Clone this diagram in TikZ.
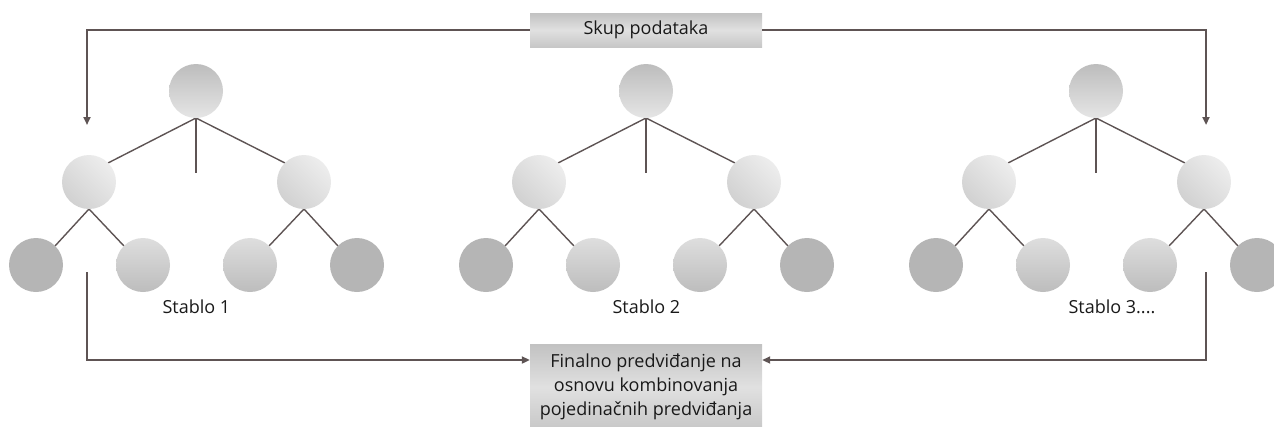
\documentclass[tikz,border=0pt]{standalone}
\usepackage{fontspec}
\setmainfont{Open Sans}
\usetikzlibrary{arrows.meta}
\definecolor{linec}{HTML}{5E5454}
\tikzset{
  branch/.style={draw=linec, line width=1.4pt},
  flow/.style={draw=linec, line width=2pt, -{Triangle[length=8pt,width=7pt]}},
  rootnode/.style={circle, minimum size=54pt, inner sep=0pt, top color=black!26, bottom color=black!10},
  midnode/.style={circle, minimum size=54pt, inner sep=0pt, top color=black!7, bottom color=black!18, shading angle=-45},
  leafsolid/.style={circle, minimum size=54pt, inner sep=0pt, fill=black!29},
  leafshade/.style={circle, minimum size=54pt, inner sep=0pt, top color=black!13, bottom color=black!26},
  boxnode/.style={inner sep=0pt, top color=black!24, bottom color=black!22, middle color=black!12, font=\fontsize{18}{24}\selectfont, text=black!90, align=center},
  treelabel/.style={anchor=west, font=\fontsize{18}{20}\selectfont, text=black!90},
}
\begin{document}
\begin{tikzpicture}[x=1pt, y=-1pt]
\clip (0,0) rectangle (1274,426);
\useasboundingbox (0,0) rectangle (1274,426);

% one tree: root, two inner nodes, four leaves
\foreach \k in {1,2,3} {
  \pgfmathsetmacro{\cx}{196+450*(\k-1)}
  \begin{scope}[shift={(\cx,0)}]
    \draw[branch] (0,118) -- (0,173);
    \draw[branch] (0,118) -- (-88,163);
    \draw[branch] (0,118) -- (89,163);
    \draw[branch] (-107,209) -- (-141,246);
    \draw[branch] (-107,209) -- (-72,246);
    \draw[branch] (108,209) -- (73,246);
    \draw[branch] (108,209) -- (142,246);
    \node[rootnode] (r\k) at (0,91) {};
    \node[midnode] (a\k) at (-107,182) {};
    \node[midnode] (b\k) at (108,182) {};
    \node[leafsolid] (a\k l) at (-160,265) {};
    \node[leafshade] (a\k r) at (-53,265) {};
    \node[leafshade] (b\k l) at (54,265) {};
    \node[leafsolid] (b\k r) at (161,265) {};
  \end{scope}
}
\node[treelabel] (t1) at (159,307) {Stablo 1};
\node[treelabel] (t2) at (609,307) {Stablo 2};
\node[treelabel] (t3) at (1065,307) {Stablo 3....};

% data set and final prediction boxes
\node[boxnode, minimum width=232pt, minimum height=34pt] (data) at (646,30) {Skup podataka};
\node[boxnode, anchor=north, minimum width=232pt, minimum height=86pt] (final) at (646,344)
  {Finalno predviđanje na\\osnovu kombinovanja\\pojedinačnih predviđanja};

% connectors
\coordinate (inL) at (87,125);
\coordinate (inR) at (1206,125);
\coordinate (outL) at (87,272);
\coordinate (outR) at (1206,272);
\coordinate (low) at (0,360);
\draw[flow] (data.west) -| (inL);
\draw[flow] (data.east) -| (inR);
\draw[flow] (outL) -- (outL |- low) -- (final.west |- low);
\draw[flow] (outR) -- (outR |- low) -- (final.east |- low);
\end{tikzpicture}
\end{document}
